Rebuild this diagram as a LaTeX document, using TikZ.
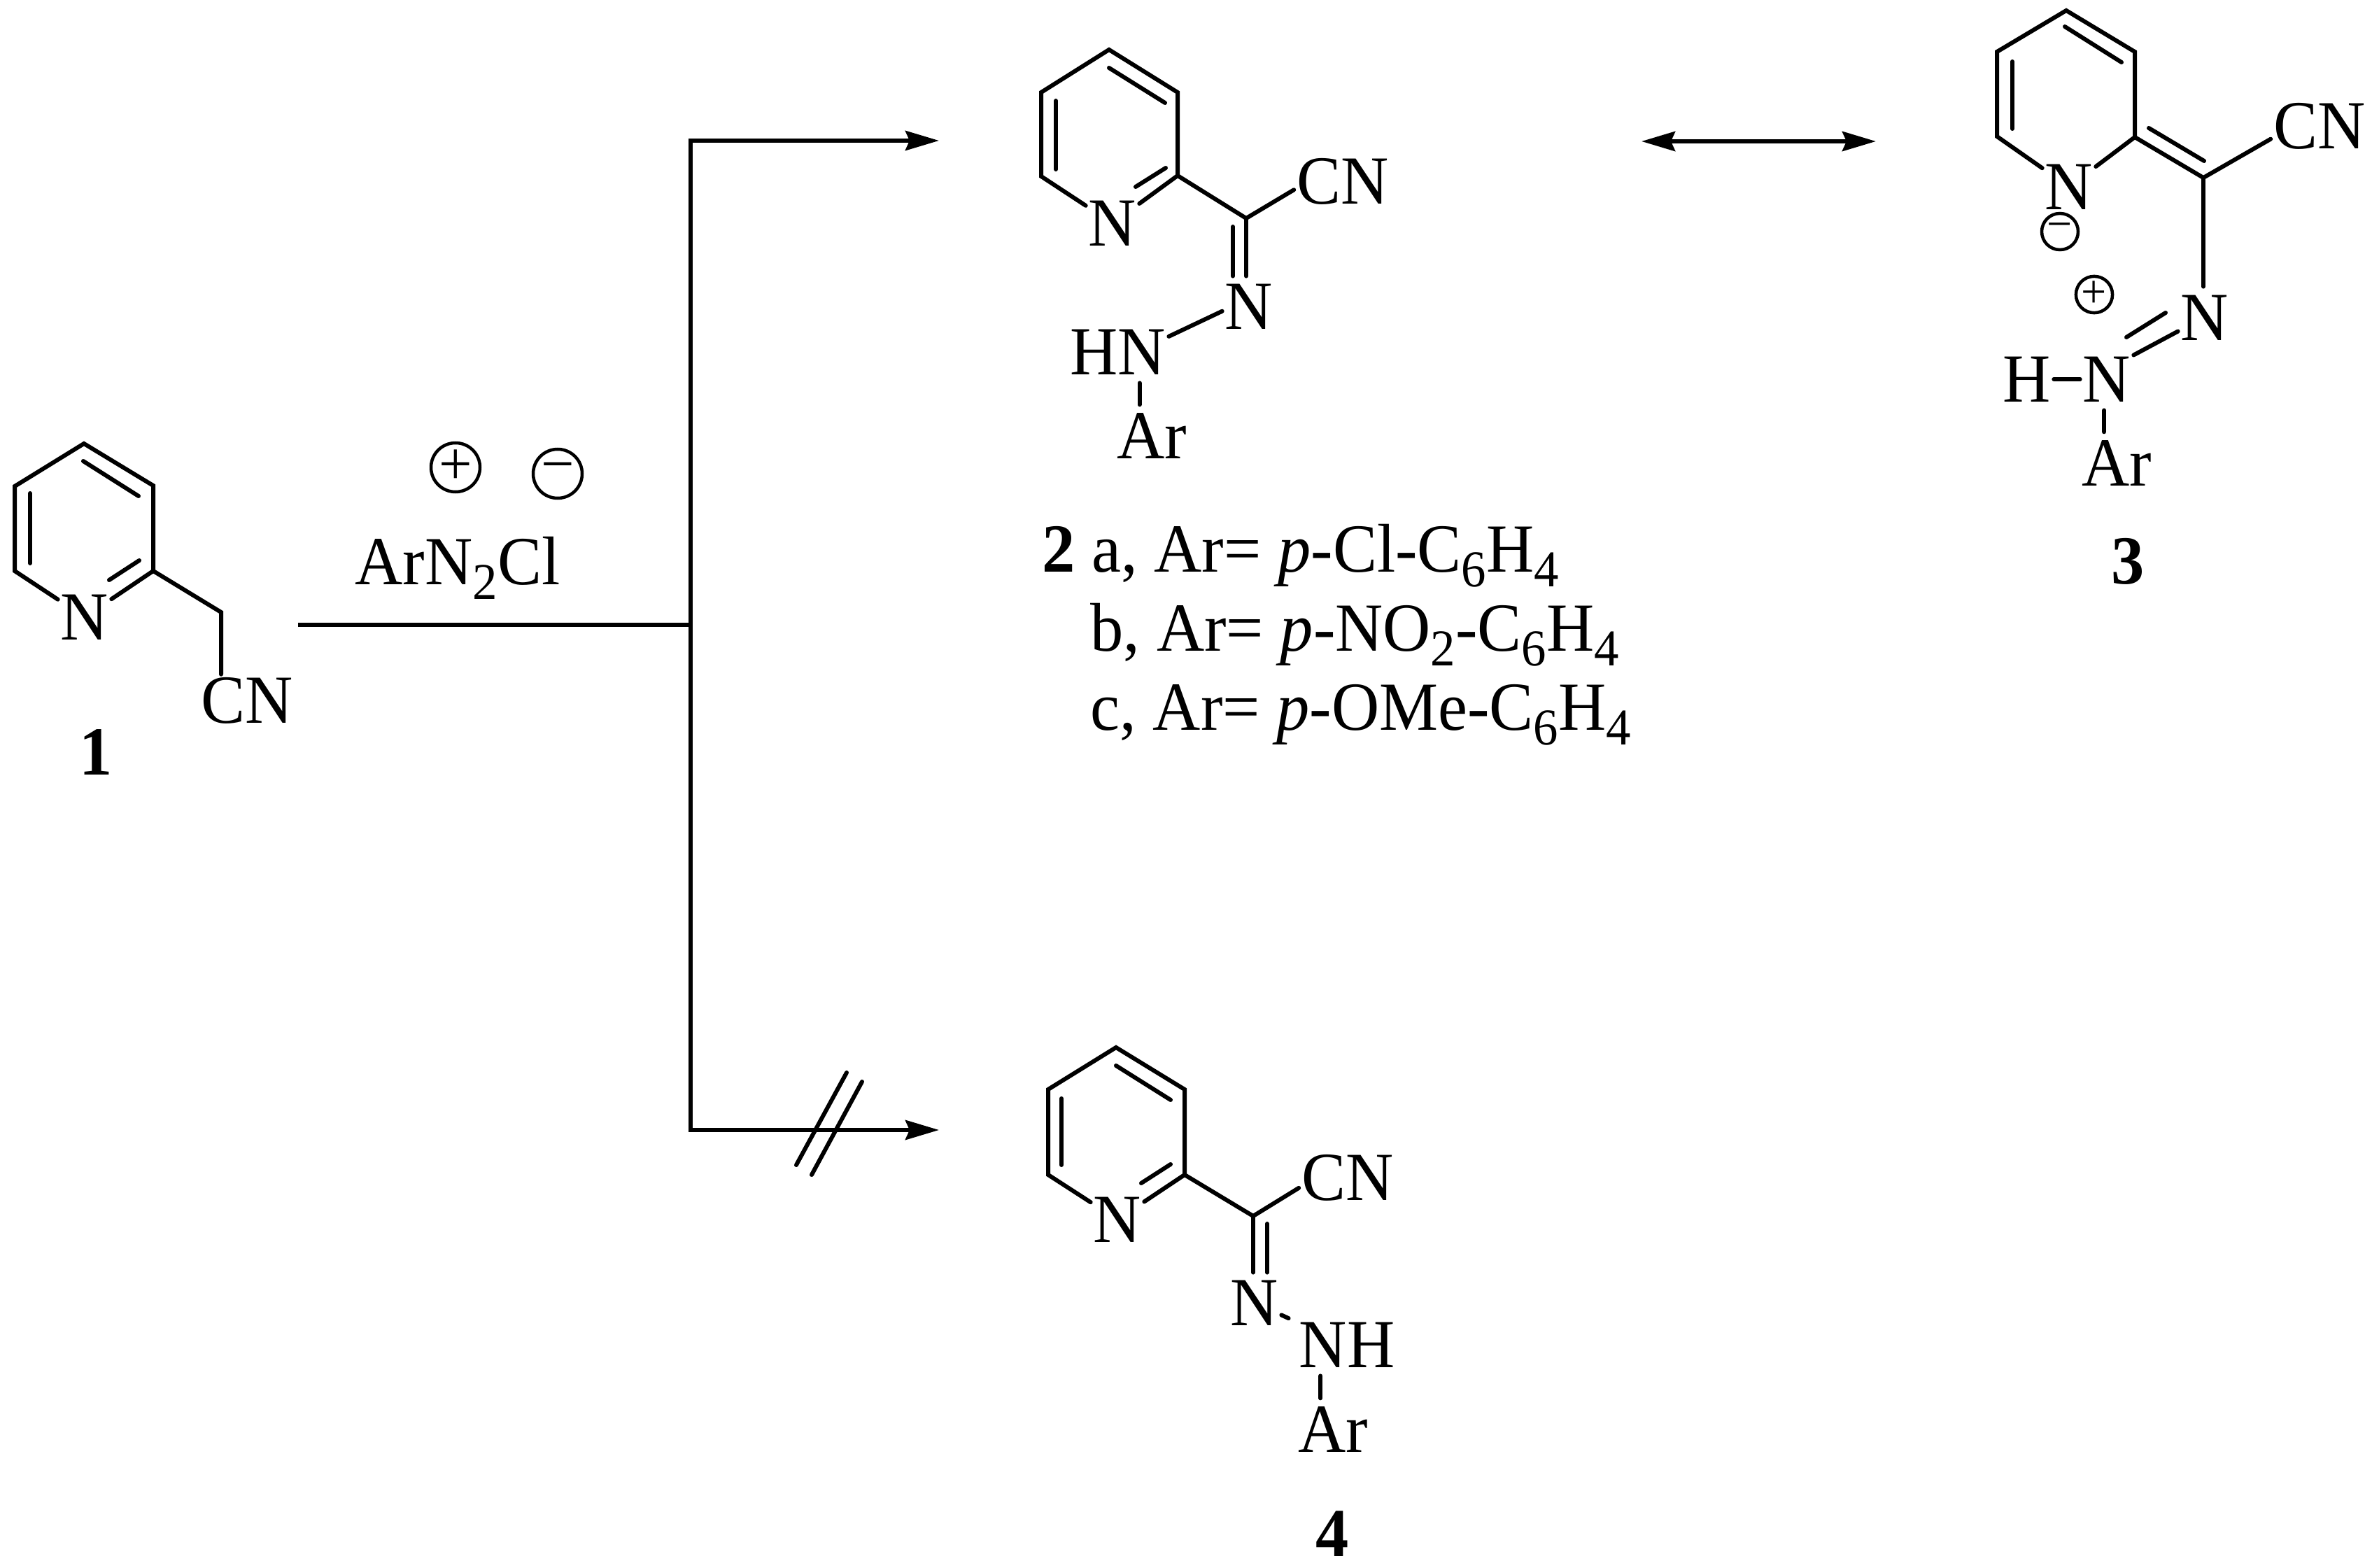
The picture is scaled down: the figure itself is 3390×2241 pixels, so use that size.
\documentclass[tikz,border=0pt]{standalone}
\usepackage{fontspec}
\setmainfont[FakeStretch=0.96]{Liberation Serif}
\usepackage{tikz}
\usetikzlibrary{arrows.meta}
\newcommand{\sbnum}[1]{\raisebox{-0.22em}{\fontsize{21}{21}\selectfont #1}}
\tikzset{
    atom/.style={inner sep=1pt, font=\fontsize{28}{30}\selectfont},
    bond/.style={line width=0.6mm, line cap=round, line join=miter},
    gapbond/.style={bond, shorten <=0.8mm, shorten >=0.8mm},
    rxn/.style={line width=0.6mm},
    tip/.style={-{Stealth[length=4.8mm,width=2.8mm,inset=0.6mm]}},
    tiptwo/.style={{Stealth[length=4.8mm,width=2.8mm,inset=0.6mm]}-{Stealth[length=4.8mm,width=2.8mm,inset=0.6mm]}},
    charge/.style={circle, draw, line width=0.45mm, inner sep=0pt, minimum size=7mm, font=\fontsize{25}{25}\selectfont},
    smallcharge/.style={charge, minimum size=5.2mm, font=\fontsize{19}{19}\selectfont},
    linelabel/.style={inner sep=0pt, anchor=base west, font=\fontsize{28}{30}\selectfont}
}
\begin{document}
\begin{tikzpicture}[x=0.1mm,y=-0.1mm]
            \useasboundingbox (0,0) rectangle (3390,2241);
            \coordinate (a1) at (120,634);
            \coordinate (a2) at (219,694);
            \coordinate (a3) at (219,816);
            \coordinate (a5) at (21,816);
            \coordinate (a6) at (21,695);
            \coordinate (ch) at (316,875);
            \node[atom] (n1) at (121,882) {N};
            \node[atom] (cn1) at (353,1001) {CN};
            \node[atom] (one) at (137,1075) {\textbf{1}};
            \draw[bond] (n1) -- (a5) -- (a6) -- (a1) -- (a2) -- (a3) -- (n1);
            \draw[bond] (43,705) -- (43,805);
            \draw[bond] (119,659) -- (198,709);
            \draw[bond] (199,801) -- (156,829);
            \draw[bond] (a3) -- (ch) -- (ch |- cn1.north);
            \node[linelabel] (reagent) at (507,835) {ArN\sbnum{2}Cl};
            \node[charge] (plus1) at (651,668) {+};
            \node[charge] (minus1) at (797,677) {−};

            \coordinate (start) at (426,893);
            \coordinate (junc) at (987,893);
            \coordinate (up) at (987,201);
            \coordinate (down) at (987,1615);
            \coordinate (uptip) at (1342,201);
            \coordinate (downtip) at (1342,1615);
            \draw[rxn] (start) -- (junc);
            \draw[rxn,tip] (junc) -- (up) -- (uptip);
            \draw[rxn,tip] (junc) -- (down) -- (downtip);
            \draw[bond] (1210,1533) -- (1138,1665);
            \draw[bond] (1232,1546) -- (1160,1679);
            \coordinate (resl) at (2346,202);
            \coordinate (resr) at (2681,202);
            \draw[rxn,tiptwo] (resl) -- (resr);

            \coordinate (b1) at (1585,71);
            \coordinate (b2) at (1683,132);
            \coordinate (b3) at (1683,251);
            \coordinate (b5) at (1488,252);
            \coordinate (b6) at (1488,132);
            \coordinate (c2) at (1781,312);
            \coordinate (d2) at (1762,324);
            \node[atom] (n2) at (1590,319) {N};
            \node[atom] (cn2) at (1919,259) {CN};
            \node[atom] (nb2) at (1785,438) {N};
            \node[atom] (hn2) at (1598,503) {HN};
            \node[atom] (ar2) at (1646,623) {Ar};
            \draw[bond] (n2) -- (b5) -- (b6) -- (b1) -- (b2) -- (b3) -- (n2);
            \draw[bond] (1509,144) -- (1509,242);
            \draw[bond] (1585,97) -- (1665,147);
            \draw[bond] (1666,240) -- (1623,267);
            \draw[bond] (b3) -- (c2) -- (cn2.190);
            \draw[bond,shorten >=0.7mm] (c2) -- (c2 |- nb2.north);
            \draw[bond,shorten >=0.7mm] (d2) -- (d2 |- nb2.north);
            \draw[bond] (nb2.190) -- (hn2.17);
            \draw[gapbond] (hn2.-50) -- (hn2.-50 |- ar2.north);
            \node[linelabel] (label2a) at (1489,817) {\textbf{2} a, Ar= \textit{p}-Cl-C\sbnum{6}H\sbnum{4}};
            \node[linelabel] (label2b) at (1558,930) {b, Ar= \textit{p}-NO\sbnum{2}-C\sbnum{6}H\sbnum{4}};
            \node[linelabel] (label2c) at (1558,1043) {c, Ar= \textit{p}-OMe-C\sbnum{6}H\sbnum{4}};

            \coordinate (e1) at (2953,15);
            \coordinate (e2) at (3051,74);
            \coordinate (e3) at (3051,196);
            \coordinate (e5) at (2854,195);
            \coordinate (e6) at (2854,74);
            \coordinate (c3) at (3149,254);
            \coordinate (nna) at (3095,447);
            \coordinate (nnb) at (3039,482);
            \node[atom] (n3) at (2957,267) {N};
            \node[atom] (cn3) at (3315,180) {CN};
            \node[atom] (nb3) at (3151,454) {N};
            \node[atom] (nc3) at (3011,542) {N};
            \node[atom] (h3) at (2897,542) {H};
            \node[atom] (ar3) at (3025,662) {Ar};
            \node[atom] (three) at (3041,802) {\textbf{3}};
            \node[smallcharge] (minus3) at (2944,331) {−};
            \node[smallcharge] (plus3) at (2993,421) {+};
            \draw[bond] (n3) -- (e5) -- (e6) -- (e1) -- (e2) -- (e3) -- (n3);
            \draw[bond] (2876,88) -- (2876,184);
            \draw[bond] (2951,38) -- (3032,89);
            \draw[bond] (e3) -- (c3) -- (cn3.195);
            \draw[bond] (3071,183) -- (3150,230);
            \draw[bond,shorten >=0.8mm] (c3) -- (c3 |- nb3.north);
            \draw[bond] (nb3.207) -- (nc3.42);
            \draw[bond] (nna) -- (nnb);
            \draw[bond] (h3) -- (nc3);
            \draw[gapbond] (nc3.-96) -- (nc3.-96 |- ar3.north);

            \coordinate (f1) at (1595,1497);
            \coordinate (f2) at (1693,1557);
            \coordinate (f3) at (1693,1679);
            \coordinate (f5) at (1498,1679);
            \coordinate (f6) at (1498,1557);
            \coordinate (c4) at (1791,1738);
            \coordinate (d4) at (1811,1749);
            \node[atom] (n4) at (1597,1743) {N};
            \node[atom] (cn4) at (1926,1683) {CN};
            \node[atom] (nb4) at (1793,1862) {N};
            \node[atom] (nh4) at (1925,1922) {NH};
            \node[atom] (ar4) at (1905,2043) {Ar};
            \node[atom] (four) at (1904,2192) {\textbf{4}};
            \draw[bond] (n4) -- (f5) -- (f6) -- (f1) -- (f2) -- (f3) -- (n4);
            \draw[bond] (1517,1570) -- (1517,1665);
            \draw[bond] (1595,1523) -- (1673,1572);
            \draw[bond] (1673,1664) -- (1631,1691);
            \draw[bond] (f3) -- (c4) -- (cn4.192);
            \draw[bond,shorten >=0.7mm] (c4) -- (c4 |- nb4.north);
            \draw[bond,shorten >=0.7mm] (d4) -- (d4 |- nb4.north);
            \draw[bond,shorten >=1.2mm] (nb4) -- (nh4);
            \draw[gapbond] (nh4.-136) -- (nh4.-136 |- ar4.north);
        \end{tikzpicture}
\end{document}
